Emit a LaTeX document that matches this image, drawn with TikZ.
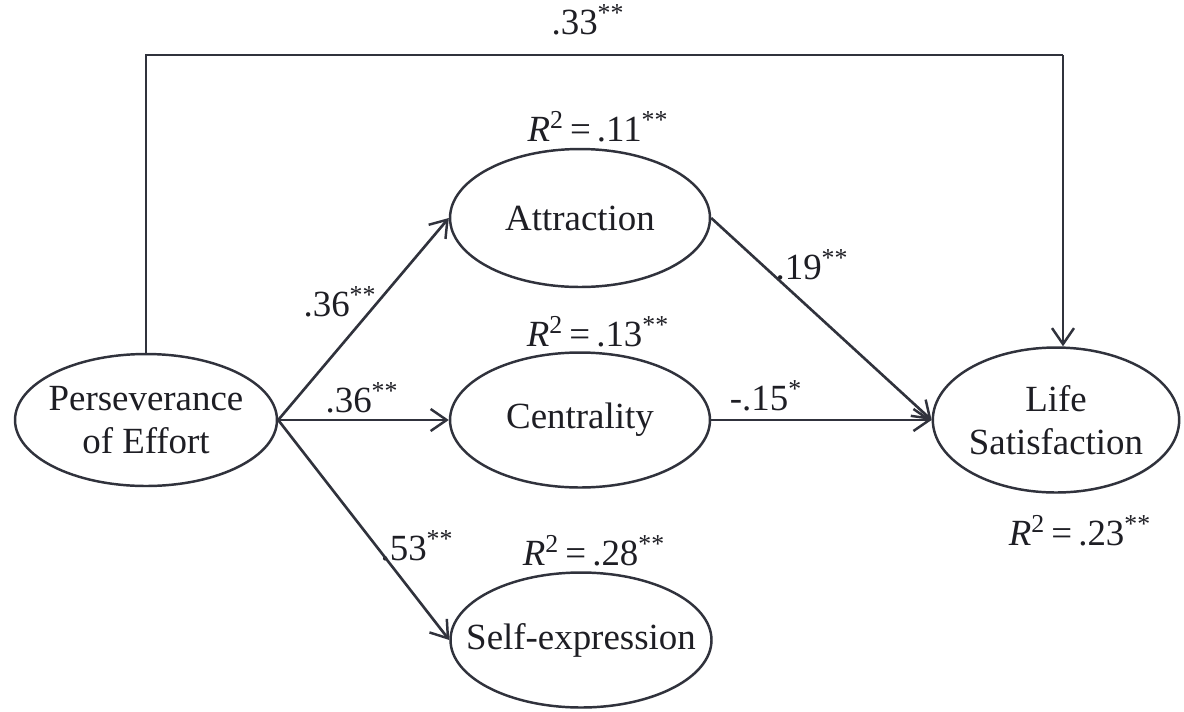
\documentclass[tikz,border=0pt]{standalone}
\usepackage{fontspec}
\setmainfont{Liberation Serif}
\usepackage{xcolor}
\usepackage{tikz}
\usetikzlibrary{arrows.meta,shapes.geometric,shadows}
\definecolor{linedark}{HTML}{30323C}
\definecolor{textdark}{HTML}{1E1E24}
\tikzset{
  latent/.style={draw=linedark, ellipse, line width=1.4pt, fill=white, align=center, inner sep=0pt,
    text=textdark, drop shadow={opacity=0.25, shadow xshift=0.6pt, shadow yshift=-0.6pt}},
  coef/.style={text=textdark, inner sep=1pt},
  path/.style={-{Straight Barb[length=3.2mm, width=4.4mm, line width=1.4pt]}, line width=1.5pt, draw=linedark},
  link/.style={line width=1.5pt, draw=linedark}
}
\newcommand{\sig}[1]{\textsuperscript{#1}}
\newcommand{\rsq}[1]{\textit{R}\textsuperscript{2}\,=\,#1\sig{**}}

\begin{document}
\begin{tikzpicture}[x=0.02cm, y=-0.02cm, font=\fontsize{21}{24.5}\selectfont]
  \useasboundingbox (0,0) rectangle (1184,711);
  \node[latent, minimum width=5.24cm, minimum height=2.64cm, inner xsep=-3pt] (effort) at (146,420) {Perseverance\\of Effort};
  \node[latent, minimum width=5.2cm, minimum height=2.76cm] (attraction) at (580,218) {Attraction};
  \node[latent, minimum width=5.2cm, minimum height=2.7cm] (centrality) at (580,420) {Centrality};
  \node[latent, minimum width=5.16cm, minimum height=2.7cm, inner xsep=-12.8pt] (selfexpr) at (581,640) {Self-expression};
  \node[latent, minimum width=4.88cm, minimum height=2.9cm] (life) at (1056,420) {Life\\Satisfaction};

  % explained variance
  \node[coef] (r2attr) at (598,127) {\rsq{.11}};
  \node[coef] (r2cent) at (598,332) {\rsq{.13}};
  \node[coef] (r2self) at (594,551) {\rsq{.28}};
  \node[coef] (r2life) at (1080,531) {\rsq{.23}};

  % path coefficients
  \node[coef] (bdirect) at (588,20) {.33\sig{**}};
  \node[coef] (battr) at (340,302) {.36\sig{**}};
  \node[coef] (bcent) at (362,398) {.36\sig{**}};
  \node[coef] (bself) at (417,546) {.53\sig{**}};
  \node[coef] (battrlife) at (812,265) {.19\sig{**}};
  \node[coef] (bcentlife) at (766,396) {-.15\sig{*}};

  \coordinate (topleft) at (146,55);
  \coordinate (topright) at (1063,55);
  \draw[link] (effort.north) -- (topleft) -- (topright);
  \draw[path] (topright) -- (topright |- life.north);
  \draw[path] (effort.east) -- (attraction.west);
  \draw[path] (effort.east) -- (centrality.west);
  \draw[path] (effort.east) -- (selfexpr.west);
  \draw[path] (attraction.east) -- (life.west);
  \draw[path] (centrality.east) -- (life.west);
\end{tikzpicture}
\end{document}
